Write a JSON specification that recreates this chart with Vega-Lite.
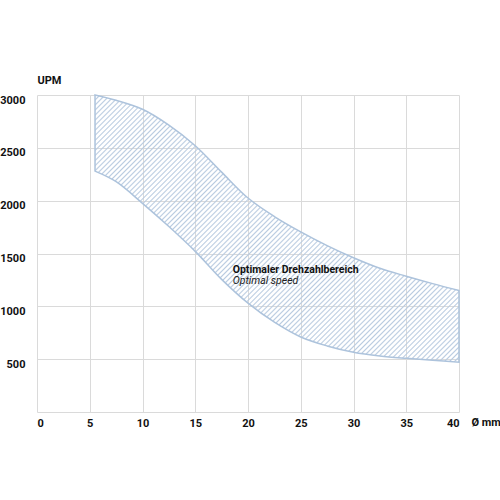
{
  "$schema": "https://vega.github.io/schema/vega-lite/v6.json",
  "width": 422,
  "height": 317,
  "autosize": "none",
  "padding": {"left": 37, "top": 95, "right": 41, "bottom": 88},
  "background": "white",
  "view": {"stroke": null},
  "config": {
    "font": "Roboto",
    "axis": {
      "gridColor": "#dadada",
      "gridWidth": 1,
      "domain": false,
      "ticks": false,
      "labelFont": "Roboto",
      "labelFontWeight": "bold",
      "labelFontSize": 11,
      "labelColor": "#111111",
      "titleFont": "Roboto",
      "titleFontWeight": "bold",
      "titleFontSize": 11,
      "titleColor": "#111111"
    }
  },
  "data": {
    "values": [
      {"d": 5.5, "hi": 3000, "lo": 2280},
      {"d": 7.5, "hi": 2950, "lo": 2180},
      {"d": 10, "hi": 2865, "lo": 1975},
      {"d": 12.5, "hi": 2715, "lo": 1755},
      {"d": 15, "hi": 2520, "lo": 1520},
      {"d": 17.5, "hi": 2270, "lo": 1255},
      {"d": 20, "hi": 2025, "lo": 1030},
      {"d": 22.5, "hi": 1850, "lo": 850},
      {"d": 25, "hi": 1705, "lo": 710},
      {"d": 27.5, "hi": 1575, "lo": 625},
      {"d": 30, "hi": 1460, "lo": 565},
      {"d": 32.5, "hi": 1360, "lo": 530},
      {"d": 35, "hi": 1285, "lo": 508},
      {"d": 37.5, "hi": 1215, "lo": 490},
      {"d": 40, "hi": 1150, "lo": 472}
    ]
  },
  "layer": [
    {
      "mark": {
        "type": "area",
        "interpolate": "catmull-rom",
        "stroke": "#adc3dc",
        "strokeWidth": 1.5,
        "fill": {
          "gradient": "linear",
          "x1": 0, "y1": 0, "x2": 1.1269, "y2": 0.8269,
          "stops": [
            {"offset":0,"color":"#b9cbe0"},{"offset":0.0024,"color":"#b9cbe000"},{"offset":0.0056,"color":"#b9cbe000"},
            {"offset":0.008,"color":"#b9cbe0"},{"offset":0.0104,"color":"#b9cbe000"},{"offset":0.0136,"color":"#b9cbe000"},
            {"offset":0.016,"color":"#b9cbe0"},{"offset":0.0184,"color":"#b9cbe000"},{"offset":0.0216,"color":"#b9cbe000"},
            {"offset":0.024,"color":"#b9cbe0"},{"offset":0.0264,"color":"#b9cbe000"},{"offset":0.0296,"color":"#b9cbe000"},
            {"offset":0.032,"color":"#b9cbe0"},{"offset":0.0344,"color":"#b9cbe000"},{"offset":0.0376,"color":"#b9cbe000"},
            {"offset":0.04,"color":"#b9cbe0"},{"offset":0.0424,"color":"#b9cbe000"},{"offset":0.0456,"color":"#b9cbe000"},
            {"offset":0.048,"color":"#b9cbe0"},{"offset":0.0504,"color":"#b9cbe000"},{"offset":0.0536,"color":"#b9cbe000"},
            {"offset":0.056,"color":"#b9cbe0"},{"offset":0.0584,"color":"#b9cbe000"},{"offset":0.0616,"color":"#b9cbe000"},
            {"offset":0.064,"color":"#b9cbe0"},{"offset":0.0664,"color":"#b9cbe000"},{"offset":0.0696,"color":"#b9cbe000"},
            {"offset":0.072,"color":"#b9cbe0"},{"offset":0.0744,"color":"#b9cbe000"},{"offset":0.0776,"color":"#b9cbe000"},
            {"offset":0.08,"color":"#b9cbe0"},{"offset":0.0824,"color":"#b9cbe000"},{"offset":0.0856,"color":"#b9cbe000"},
            {"offset":0.088,"color":"#b9cbe0"},{"offset":0.0904,"color":"#b9cbe000"},{"offset":0.0936,"color":"#b9cbe000"},
            {"offset":0.096,"color":"#b9cbe0"},{"offset":0.0984,"color":"#b9cbe000"},{"offset":0.1016,"color":"#b9cbe000"},
            {"offset":0.104,"color":"#b9cbe0"},{"offset":0.1064,"color":"#b9cbe000"},{"offset":0.1096,"color":"#b9cbe000"},
            {"offset":0.112,"color":"#b9cbe0"},{"offset":0.1144,"color":"#b9cbe000"},{"offset":0.1176,"color":"#b9cbe000"},
            {"offset":0.12,"color":"#b9cbe0"},{"offset":0.1224,"color":"#b9cbe000"},{"offset":0.1256,"color":"#b9cbe000"},
            {"offset":0.128,"color":"#b9cbe0"},{"offset":0.1304,"color":"#b9cbe000"},{"offset":0.1336,"color":"#b9cbe000"},
            {"offset":0.136,"color":"#b9cbe0"},{"offset":0.1384,"color":"#b9cbe000"},{"offset":0.1416,"color":"#b9cbe000"},
            {"offset":0.144,"color":"#b9cbe0"},{"offset":0.1464,"color":"#b9cbe000"},{"offset":0.1496,"color":"#b9cbe000"},
            {"offset":0.152,"color":"#b9cbe0"},{"offset":0.1544,"color":"#b9cbe000"},{"offset":0.1576,"color":"#b9cbe000"},
            {"offset":0.16,"color":"#b9cbe0"},{"offset":0.1624,"color":"#b9cbe000"},{"offset":0.1656,"color":"#b9cbe000"},
            {"offset":0.168,"color":"#b9cbe0"},{"offset":0.1704,"color":"#b9cbe000"},{"offset":0.1736,"color":"#b9cbe000"},
            {"offset":0.176,"color":"#b9cbe0"},{"offset":0.1784,"color":"#b9cbe000"},{"offset":0.1816,"color":"#b9cbe000"},
            {"offset":0.184,"color":"#b9cbe0"},{"offset":0.1864,"color":"#b9cbe000"},{"offset":0.1896,"color":"#b9cbe000"},
            {"offset":0.192,"color":"#b9cbe0"},{"offset":0.1944,"color":"#b9cbe000"},{"offset":0.1976,"color":"#b9cbe000"},
            {"offset":0.2,"color":"#b9cbe0"},{"offset":0.2024,"color":"#b9cbe000"},{"offset":0.2056,"color":"#b9cbe000"},
            {"offset":0.208,"color":"#b9cbe0"},{"offset":0.2104,"color":"#b9cbe000"},{"offset":0.2136,"color":"#b9cbe000"},
            {"offset":0.216,"color":"#b9cbe0"},{"offset":0.2184,"color":"#b9cbe000"},{"offset":0.2216,"color":"#b9cbe000"},
            {"offset":0.224,"color":"#b9cbe0"},{"offset":0.2264,"color":"#b9cbe000"},{"offset":0.2296,"color":"#b9cbe000"},
            {"offset":0.232,"color":"#b9cbe0"},{"offset":0.2344,"color":"#b9cbe000"},{"offset":0.2376,"color":"#b9cbe000"},
            {"offset":0.24,"color":"#b9cbe0"},{"offset":0.2424,"color":"#b9cbe000"},{"offset":0.2456,"color":"#b9cbe000"},
            {"offset":0.248,"color":"#b9cbe0"},{"offset":0.2504,"color":"#b9cbe000"},{"offset":0.2536,"color":"#b9cbe000"},
            {"offset":0.256,"color":"#b9cbe0"},{"offset":0.2584,"color":"#b9cbe000"},{"offset":0.2616,"color":"#b9cbe000"},
            {"offset":0.264,"color":"#b9cbe0"},{"offset":0.2664,"color":"#b9cbe000"},{"offset":0.2696,"color":"#b9cbe000"},
            {"offset":0.272,"color":"#b9cbe0"},{"offset":0.2744,"color":"#b9cbe000"},{"offset":0.2776,"color":"#b9cbe000"},
            {"offset":0.28,"color":"#b9cbe0"},{"offset":0.2824,"color":"#b9cbe000"},{"offset":0.2856,"color":"#b9cbe000"},
            {"offset":0.288,"color":"#b9cbe0"},{"offset":0.2904,"color":"#b9cbe000"},{"offset":0.2936,"color":"#b9cbe000"},
            {"offset":0.296,"color":"#b9cbe0"},{"offset":0.2984,"color":"#b9cbe000"},{"offset":0.3016,"color":"#b9cbe000"},
            {"offset":0.304,"color":"#b9cbe0"},{"offset":0.3064,"color":"#b9cbe000"},{"offset":0.3096,"color":"#b9cbe000"},
            {"offset":0.312,"color":"#b9cbe0"},{"offset":0.3144,"color":"#b9cbe000"},{"offset":0.3176,"color":"#b9cbe000"},
            {"offset":0.32,"color":"#b9cbe0"},{"offset":0.3224,"color":"#b9cbe000"},{"offset":0.3256,"color":"#b9cbe000"},
            {"offset":0.328,"color":"#b9cbe0"},{"offset":0.3304,"color":"#b9cbe000"},{"offset":0.3336,"color":"#b9cbe000"},
            {"offset":0.336,"color":"#b9cbe0"},{"offset":0.3384,"color":"#b9cbe000"},{"offset":0.3416,"color":"#b9cbe000"},
            {"offset":0.344,"color":"#b9cbe0"},{"offset":0.3464,"color":"#b9cbe000"},{"offset":0.3496,"color":"#b9cbe000"},
            {"offset":0.352,"color":"#b9cbe0"},{"offset":0.3544,"color":"#b9cbe000"},{"offset":0.3576,"color":"#b9cbe000"},
            {"offset":0.36,"color":"#b9cbe0"},{"offset":0.3624,"color":"#b9cbe000"},{"offset":0.3656,"color":"#b9cbe000"},
            {"offset":0.368,"color":"#b9cbe0"},{"offset":0.3704,"color":"#b9cbe000"},{"offset":0.3736,"color":"#b9cbe000"},
            {"offset":0.376,"color":"#b9cbe0"},{"offset":0.3784,"color":"#b9cbe000"},{"offset":0.3816,"color":"#b9cbe000"},
            {"offset":0.384,"color":"#b9cbe0"},{"offset":0.3864,"color":"#b9cbe000"},{"offset":0.3896,"color":"#b9cbe000"},
            {"offset":0.392,"color":"#b9cbe0"},{"offset":0.3944,"color":"#b9cbe000"},{"offset":0.3976,"color":"#b9cbe000"},
            {"offset":0.4,"color":"#b9cbe0"},{"offset":0.4024,"color":"#b9cbe000"},{"offset":0.4056,"color":"#b9cbe000"},
            {"offset":0.408,"color":"#b9cbe0"},{"offset":0.4104,"color":"#b9cbe000"},{"offset":0.4136,"color":"#b9cbe000"},
            {"offset":0.416,"color":"#b9cbe0"},{"offset":0.4184,"color":"#b9cbe000"},{"offset":0.4216,"color":"#b9cbe000"},
            {"offset":0.424,"color":"#b9cbe0"},{"offset":0.4264,"color":"#b9cbe000"},{"offset":0.4296,"color":"#b9cbe000"},
            {"offset":0.432,"color":"#b9cbe0"},{"offset":0.4344,"color":"#b9cbe000"},{"offset":0.4376,"color":"#b9cbe000"},
            {"offset":0.44,"color":"#b9cbe0"},{"offset":0.4424,"color":"#b9cbe000"},{"offset":0.4456,"color":"#b9cbe000"},
            {"offset":0.448,"color":"#b9cbe0"},{"offset":0.4504,"color":"#b9cbe000"},{"offset":0.4536,"color":"#b9cbe000"},
            {"offset":0.456,"color":"#b9cbe0"},{"offset":0.4584,"color":"#b9cbe000"},{"offset":0.4616,"color":"#b9cbe000"},
            {"offset":0.464,"color":"#b9cbe0"},{"offset":0.4664,"color":"#b9cbe000"},{"offset":0.4696,"color":"#b9cbe000"},
            {"offset":0.472,"color":"#b9cbe0"},{"offset":0.4744,"color":"#b9cbe000"},{"offset":0.4776,"color":"#b9cbe000"},
            {"offset":0.48,"color":"#b9cbe0"},{"offset":0.4824,"color":"#b9cbe000"},{"offset":0.4856,"color":"#b9cbe000"},
            {"offset":0.488,"color":"#b9cbe0"},{"offset":0.4904,"color":"#b9cbe000"},{"offset":0.4936,"color":"#b9cbe000"},
            {"offset":0.496,"color":"#b9cbe0"},{"offset":0.4984,"color":"#b9cbe000"},{"offset":0.5016,"color":"#b9cbe000"},
            {"offset":0.504,"color":"#b9cbe0"},{"offset":0.5064,"color":"#b9cbe000"},{"offset":0.5096,"color":"#b9cbe000"},
            {"offset":0.512,"color":"#b9cbe0"},{"offset":0.5144,"color":"#b9cbe000"},{"offset":0.5176,"color":"#b9cbe000"},
            {"offset":0.52,"color":"#b9cbe0"},{"offset":0.5224,"color":"#b9cbe000"},{"offset":0.5256,"color":"#b9cbe000"},
            {"offset":0.528,"color":"#b9cbe0"},{"offset":0.5304,"color":"#b9cbe000"},{"offset":0.5336,"color":"#b9cbe000"},
            {"offset":0.536,"color":"#b9cbe0"},{"offset":0.5384,"color":"#b9cbe000"},{"offset":0.5416,"color":"#b9cbe000"},
            {"offset":0.544,"color":"#b9cbe0"},{"offset":0.5464,"color":"#b9cbe000"},{"offset":0.5496,"color":"#b9cbe000"},
            {"offset":0.552,"color":"#b9cbe0"},{"offset":0.5544,"color":"#b9cbe000"},{"offset":0.5576,"color":"#b9cbe000"},
            {"offset":0.56,"color":"#b9cbe0"},{"offset":0.5624,"color":"#b9cbe000"},{"offset":0.5656,"color":"#b9cbe000"},
            {"offset":0.568,"color":"#b9cbe0"},{"offset":0.5704,"color":"#b9cbe000"},{"offset":0.5736,"color":"#b9cbe000"},
            {"offset":0.576,"color":"#b9cbe0"},{"offset":0.5784,"color":"#b9cbe000"},{"offset":0.5816,"color":"#b9cbe000"},
            {"offset":0.584,"color":"#b9cbe0"},{"offset":0.5864,"color":"#b9cbe000"},{"offset":0.5896,"color":"#b9cbe000"},
            {"offset":0.592,"color":"#b9cbe0"},{"offset":0.5944,"color":"#b9cbe000"},{"offset":0.5976,"color":"#b9cbe000"},
            {"offset":0.6,"color":"#b9cbe0"},{"offset":0.6024,"color":"#b9cbe000"},{"offset":0.6056,"color":"#b9cbe000"},
            {"offset":0.608,"color":"#b9cbe0"},{"offset":0.6104,"color":"#b9cbe000"},{"offset":0.6136,"color":"#b9cbe000"},
            {"offset":0.616,"color":"#b9cbe0"},{"offset":0.6184,"color":"#b9cbe000"},{"offset":0.6216,"color":"#b9cbe000"},
            {"offset":0.624,"color":"#b9cbe0"},{"offset":0.6264,"color":"#b9cbe000"},{"offset":0.6296,"color":"#b9cbe000"},
            {"offset":0.632,"color":"#b9cbe0"},{"offset":0.6344,"color":"#b9cbe000"},{"offset":0.6376,"color":"#b9cbe000"},
            {"offset":0.64,"color":"#b9cbe0"},{"offset":0.6424,"color":"#b9cbe000"},{"offset":0.6456,"color":"#b9cbe000"},
            {"offset":0.648,"color":"#b9cbe0"},{"offset":0.6504,"color":"#b9cbe000"},{"offset":0.6536,"color":"#b9cbe000"},
            {"offset":0.656,"color":"#b9cbe0"},{"offset":0.6584,"color":"#b9cbe000"},{"offset":0.6616,"color":"#b9cbe000"},
            {"offset":0.664,"color":"#b9cbe0"},{"offset":0.6664,"color":"#b9cbe000"},{"offset":0.6696,"color":"#b9cbe000"},
            {"offset":0.672,"color":"#b9cbe0"},{"offset":0.6744,"color":"#b9cbe000"},{"offset":0.6776,"color":"#b9cbe000"},
            {"offset":0.68,"color":"#b9cbe0"},{"offset":0.6824,"color":"#b9cbe000"},{"offset":0.6856,"color":"#b9cbe000"},
            {"offset":0.688,"color":"#b9cbe0"},{"offset":0.6904,"color":"#b9cbe000"},{"offset":0.6936,"color":"#b9cbe000"},
            {"offset":0.696,"color":"#b9cbe0"},{"offset":0.6984,"color":"#b9cbe000"},{"offset":0.7016,"color":"#b9cbe000"},
            {"offset":0.704,"color":"#b9cbe0"},{"offset":0.7064,"color":"#b9cbe000"},{"offset":0.7096,"color":"#b9cbe000"},
            {"offset":0.712,"color":"#b9cbe0"},{"offset":0.7144,"color":"#b9cbe000"},{"offset":0.7176,"color":"#b9cbe000"},
            {"offset":0.72,"color":"#b9cbe0"},{"offset":0.7224,"color":"#b9cbe000"},{"offset":0.7256,"color":"#b9cbe000"},
            {"offset":0.728,"color":"#b9cbe0"},{"offset":0.7304,"color":"#b9cbe000"},{"offset":0.7336,"color":"#b9cbe000"},
            {"offset":0.736,"color":"#b9cbe0"},{"offset":0.7384,"color":"#b9cbe000"},{"offset":0.7416,"color":"#b9cbe000"},
            {"offset":0.744,"color":"#b9cbe0"},{"offset":0.7464,"color":"#b9cbe000"},{"offset":0.7496,"color":"#b9cbe000"},
            {"offset":0.752,"color":"#b9cbe0"},{"offset":0.7544,"color":"#b9cbe000"},{"offset":0.7576,"color":"#b9cbe000"},
            {"offset":0.76,"color":"#b9cbe0"},{"offset":0.7624,"color":"#b9cbe000"},{"offset":0.7656,"color":"#b9cbe000"},
            {"offset":0.768,"color":"#b9cbe0"},{"offset":0.7704,"color":"#b9cbe000"},{"offset":0.7736,"color":"#b9cbe000"},
            {"offset":0.776,"color":"#b9cbe0"},{"offset":0.7784,"color":"#b9cbe000"},{"offset":0.7816,"color":"#b9cbe000"},
            {"offset":0.784,"color":"#b9cbe0"},{"offset":0.7864,"color":"#b9cbe000"},{"offset":0.7896,"color":"#b9cbe000"},
            {"offset":0.792,"color":"#b9cbe0"},{"offset":0.7944,"color":"#b9cbe000"},{"offset":0.7976,"color":"#b9cbe000"},
            {"offset":0.8,"color":"#b9cbe0"},{"offset":0.8024,"color":"#b9cbe000"},{"offset":0.8056,"color":"#b9cbe000"},
            {"offset":0.808,"color":"#b9cbe0"},{"offset":0.8104,"color":"#b9cbe000"},{"offset":0.8136,"color":"#b9cbe000"},
            {"offset":0.816,"color":"#b9cbe0"},{"offset":0.8184,"color":"#b9cbe000"},{"offset":0.8216,"color":"#b9cbe000"},
            {"offset":0.824,"color":"#b9cbe0"},{"offset":0.8264,"color":"#b9cbe000"},{"offset":0.8296,"color":"#b9cbe000"},
            {"offset":0.832,"color":"#b9cbe0"},{"offset":0.8344,"color":"#b9cbe000"},{"offset":0.8376,"color":"#b9cbe000"},
            {"offset":0.84,"color":"#b9cbe0"},{"offset":0.8424,"color":"#b9cbe000"},{"offset":0.8456,"color":"#b9cbe000"},
            {"offset":0.848,"color":"#b9cbe0"},{"offset":0.8504,"color":"#b9cbe000"},{"offset":0.8536,"color":"#b9cbe000"},
            {"offset":0.856,"color":"#b9cbe0"},{"offset":0.8584,"color":"#b9cbe000"},{"offset":0.8616,"color":"#b9cbe000"},
            {"offset":0.864,"color":"#b9cbe0"},{"offset":0.8664,"color":"#b9cbe000"},{"offset":0.8696,"color":"#b9cbe000"},
            {"offset":0.872,"color":"#b9cbe0"},{"offset":0.8744,"color":"#b9cbe000"},{"offset":0.8776,"color":"#b9cbe000"},
            {"offset":0.88,"color":"#b9cbe0"},{"offset":0.8824,"color":"#b9cbe000"},{"offset":0.8856,"color":"#b9cbe000"},
            {"offset":0.888,"color":"#b9cbe0"},{"offset":0.8904,"color":"#b9cbe000"},{"offset":0.8936,"color":"#b9cbe000"},
            {"offset":0.896,"color":"#b9cbe0"},{"offset":0.8984,"color":"#b9cbe000"},{"offset":0.9016,"color":"#b9cbe000"},
            {"offset":0.904,"color":"#b9cbe0"},{"offset":0.9064,"color":"#b9cbe000"},{"offset":0.9096,"color":"#b9cbe000"},
            {"offset":0.912,"color":"#b9cbe0"},{"offset":0.9144,"color":"#b9cbe000"},{"offset":0.9176,"color":"#b9cbe000"},
            {"offset":0.92,"color":"#b9cbe0"},{"offset":0.9224,"color":"#b9cbe000"},{"offset":0.9256,"color":"#b9cbe000"},
            {"offset":0.928,"color":"#b9cbe0"},{"offset":0.9304,"color":"#b9cbe000"},{"offset":0.9336,"color":"#b9cbe000"},
            {"offset":0.936,"color":"#b9cbe0"},{"offset":0.9384,"color":"#b9cbe000"},{"offset":0.9416,"color":"#b9cbe000"},
            {"offset":0.944,"color":"#b9cbe0"},{"offset":0.9464,"color":"#b9cbe000"},{"offset":0.9496,"color":"#b9cbe000"},
            {"offset":0.952,"color":"#b9cbe0"},{"offset":0.9544,"color":"#b9cbe000"},{"offset":0.9576,"color":"#b9cbe000"},
            {"offset":0.96,"color":"#b9cbe0"},{"offset":0.9624,"color":"#b9cbe000"},{"offset":0.9656,"color":"#b9cbe000"},
            {"offset":0.968,"color":"#b9cbe0"},{"offset":0.9704,"color":"#b9cbe000"},{"offset":0.9736,"color":"#b9cbe000"},
            {"offset":0.976,"color":"#b9cbe0"},{"offset":0.9784,"color":"#b9cbe000"},{"offset":0.9816,"color":"#b9cbe000"},
            {"offset":0.984,"color":"#b9cbe0"},{"offset":0.9864,"color":"#b9cbe000"},{"offset":0.9896,"color":"#b9cbe000"},
            {"offset":0.992,"color":"#b9cbe0"},{"offset":0.9944,"color":"#b9cbe000"},{"offset":0.9976,"color":"#b9cbe000"},
            {"offset":1,"color":"#b9cbe0"}
          ]
        }
      },
      "encoding": {
        "x": {
          "field": "d",
          "type": "quantitative",
          "scale": {"domain": [0, 40], "nice": false},
          "axis": {
            "values": [0, 5, 10, 15, 20, 25, 30, 35, 40],
            "labelPadding": 5,
            "title": "Ø mm",
            "titleX": 434,
            "titleY": 10,
            "titleAlign": "left",
            "titleAnchor": null,
            "titleBaseline": "middle"
          }
        },
        "y": {
          "field": "hi",
          "type": "quantitative",
          "scale": {"domain": [0, 3000], "nice": false},
          "axis": {
            "values": [0, 500, 1000, 1500, 2000, 2500, 3000],
            "format": "d",
            "labelExpr": "datum.value == 0 ? '' : datum.label",
            "labelPadding": 12,
            "labelOffset": 5,
            "title": "UPM",
            "titleAngle": 0,
            "titleX": 0,
            "titleY": -15,
            "titleAlign": "left",
            "titleAnchor": null,
            "titleBaseline": "middle"
          }
        },
        "y2": {"field": "lo"}
      }
    },
    {
      "data": {"values": [{"d": 18.55, "v": 1346, "note": "Optimaler Drehzahlbereich"}]},
      "mark": {"type": "text", "align": "left", "baseline": "middle", "font": "Roboto", "fontWeight": "bold", "fontSize": 10.5, "color": "#111111"},
      "encoding": {
        "x": {"field": "d", "type": "quantitative"},
        "y": {"field": "v", "type": "quantitative"},
        "text": {"field": "note"}
      }
    },
    {
      "data": {"values": [{"d": 18.55, "v": 1240, "note": "Optimal speed"}]},
      "mark": {"type": "text", "align": "left", "baseline": "middle", "font": "Roboto", "fontStyle": "italic", "fontSize": 10.5, "color": "#222222"},
      "encoding": {
        "x": {"field": "d", "type": "quantitative"},
        "y": {"field": "v", "type": "quantitative"},
        "text": {"field": "note"}
      }
    }
  ]
}
